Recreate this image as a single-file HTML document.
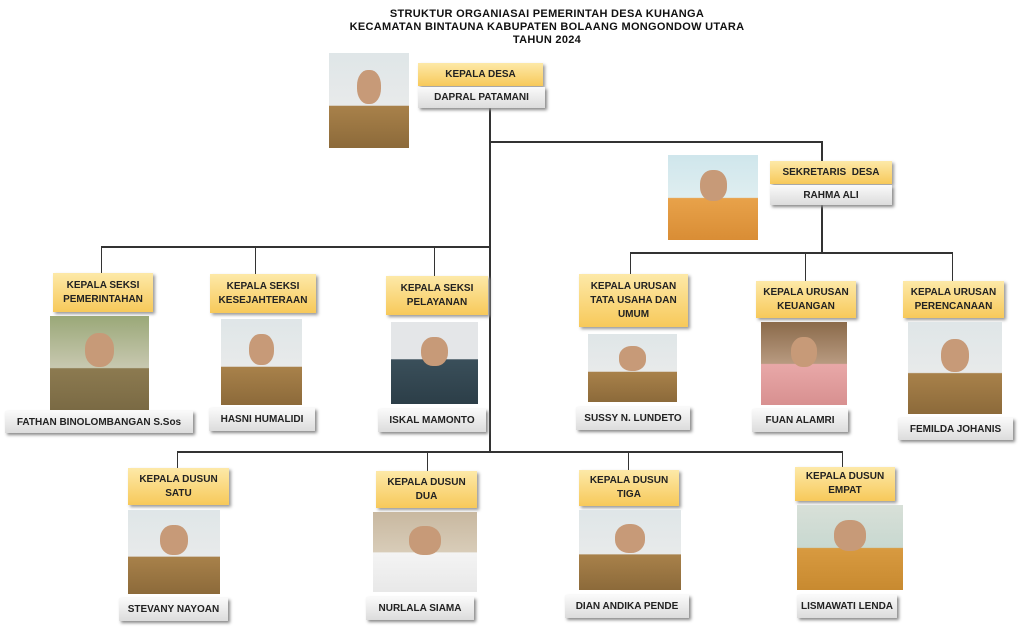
<!DOCTYPE html>
<html><head><meta charset="utf-8"><style>
body{margin:0;width:1024px;height:628px;background:#fff;position:relative;overflow:hidden;font-family:"Liberation Sans",sans-serif}
.t{position:absolute;left:0;width:1094px;text-align:center;font-weight:bold;font-size:11px;color:#111;letter-spacing:.3px}
.l{position:absolute;background:#333}
.y{position:absolute;background:linear-gradient(#fde9a8,#f7c95a);box-shadow:2px 2px 3px #999;display:flex;align-items:center;justify-content:center;text-align:center;font-size:10px;font-weight:bold;color:#222;line-height:14px}
.n{position:absolute;background:linear-gradient(#fafafa,#dcdcdc);box-shadow:2px 2px 3px #888;display:flex;align-items:center;justify-content:center;font-size:10px;font-weight:bold;color:#222}
.p{position:absolute;overflow:hidden;background:linear-gradient(#dfe6e8 0%,#e8eaea 55%,#a8814a 56%,#8c6a3a 100%)}
.p::before{content:"";position:absolute;left:35%;width:30%;top:18%;height:36%;border-radius:45%;background:#c79a78}
</style></head><body>
<div class="t" style="top:8px;left:0">STRUKTUR ORGANIASAI PEMERINTAH DESA KUHANGA</div>
<div class="t" style="top:21px">KECAMATAN BINTAUNA KABUPATEN BOLAANG MONGONDOW UTARA</div>
<div class="t" style="top:34px">TAHUN 2024</div>

<div class="l" style="left:489px;top:108px;width:2px;height:345px"></div>
<div class="l" style="left:490px;top:141px;width:333px;height:2px"></div>
<div class="l" style="left:821px;top:141px;width:2px;height:20px"></div>
<div class="l" style="left:821px;top:205px;width:2px;height:48px"></div>
<div class="l" style="left:630px;top:252px;width:323px;height:2px"></div>
<div class="l" style="left:630px;top:252px;width:1px;height:22px"></div>
<div class="l" style="left:805px;top:252px;width:1px;height:29px"></div>
<div class="l" style="left:952px;top:252px;width:1px;height:29px"></div>
<div class="l" style="left:101px;top:246px;width:389px;height:2px"></div>
<div class="l" style="left:101px;top:246px;width:1px;height:27px"></div>
<div class="l" style="left:255px;top:246px;width:1px;height:28px"></div>
<div class="l" style="left:434px;top:246px;width:1px;height:30px"></div>
<div class="l" style="left:177px;top:451px;width:666px;height:2px"></div>
<div class="l" style="left:177px;top:451px;width:1px;height:17px"></div>
<div class="l" style="left:427px;top:451px;width:1px;height:20px"></div>
<div class="l" style="left:628px;top:451px;width:1px;height:19px"></div>
<div class="l" style="left:842px;top:451px;width:1px;height:16px"></div>

<div class="p" style="left:329px;top:53px;width:80px;height:95px"></div>
<div class="y" style="left:418px;top:63px;width:125px;height:23px">KEPALA DESA</div>
<div class="n" style="left:418px;top:87px;width:127px;height:21px">DAPRAL PATAMANI</div>

<div class="p" style="left:668px;top:155px;width:90px;height:85px;background:linear-gradient(#cfe6ec,#dfeef0 50%,#e8a24a 51%,#d98d35)"></div>
<div class="y" style="left:770px;top:161px;width:122px;height:23px">SEKRETARIS &nbsp;DESA</div>
<div class="n" style="left:770px;top:185px;width:122px;height:20px">RAHMA ALI</div>

<div class="y" style="left:53px;top:273px;width:100px;height:39px">KEPALA SEKSI<br>PEMERINTAHAN</div>
<div class="p" style="left:50px;top:316px;width:99px;height:94px;background:linear-gradient(#9aa878,#c8c8b0 55%,#8c7a50 56%,#7a6a44)"></div>
<div class="n" style="left:5px;top:411px;width:188px;height:22px">FATHAN BINOLOMBANGAN S.Sos</div>

<div class="y" style="left:210px;top:274px;width:106px;height:39px">KEPALA SEKSI<br>KESEJAHTERAAN</div>
<div class="p" style="left:221px;top:319px;width:81px;height:86px"></div>
<div class="n" style="left:209px;top:408px;width:106px;height:23px">HASNI HUMALIDI</div>

<div class="y" style="left:386px;top:276px;width:102px;height:39px">KEPALA SEKSI<br>PELAYANAN</div>
<div class="p" style="left:391px;top:322px;width:87px;height:82px;background:linear-gradient(#e4e6e8 0%,#e4e6e8 45%,#3a4f5a 46%,#2c3e48)"></div>
<div class="n" style="left:378px;top:409px;width:108px;height:23px">ISKAL MAMONTO</div>

<div class="y" style="left:579px;top:274px;width:109px;height:53px">KEPALA URUSAN<br>TATA USAHA DAN<br>UMUM</div>
<div class="p" style="left:588px;top:334px;width:89px;height:68px"></div>
<div class="n" style="left:576px;top:407px;width:114px;height:23px">SUSSY N. LUNDETO</div>

<div class="y" style="left:756px;top:281px;width:100px;height:37px">KEPALA URUSAN<br>KEUANGAN</div>
<div class="p" style="left:761px;top:322px;width:86px;height:83px;background:linear-gradient(#8a6a4a,#b89a80 50%,#e8a8a8 51%,#d89090)"></div>
<div class="n" style="left:752px;top:409px;width:96px;height:23px">FUAN ALAMRI</div>

<div class="y" style="left:903px;top:281px;width:101px;height:37px">KEPALA URUSAN<br>PERENCANAAN</div>
<div class="p" style="left:908px;top:322px;width:94px;height:92px"></div>
<div class="n" style="left:898px;top:418px;width:115px;height:22px">FEMILDA JOHANIS</div>

<div class="y" style="left:128px;top:468px;width:101px;height:37px">KEPALA DUSUN<br>SATU</div>
<div class="p" style="left:128px;top:510px;width:92px;height:84px"></div>
<div class="n" style="left:119px;top:598px;width:109px;height:23px">STEVANY NAYOAN</div>

<div class="y" style="left:376px;top:471px;width:101px;height:37px">KEPALA DUSUN<br>DUA</div>
<div class="p" style="left:373px;top:512px;width:104px;height:80px;background:linear-gradient(#c8b8a0,#d8ccb8 50%,#f4f4f4 51%,#e8e8e8)"></div>
<div class="n" style="left:366px;top:597px;width:108px;height:23px">NURLALA SIAMA</div>

<div class="y" style="left:579px;top:470px;width:100px;height:36px">KEPALA DUSUN<br>TIGA</div>
<div class="p" style="left:579px;top:510px;width:102px;height:80px"></div>
<div class="n" style="left:565px;top:595px;width:124px;height:23px">DIAN ANDIKA PENDE</div>

<div class="y" style="left:795px;top:467px;width:100px;height:34px">KEPALA DUSUN<br>EMPAT</div>
<div class="p" style="left:797px;top:505px;width:106px;height:85px;background:linear-gradient(#d8e0d8,#c8d8d0 50%,#d89a40 51%,#c88a30)"></div>
<div class="n" style="left:797px;top:595px;width:100px;height:23px">LISMAWATI LENDA</div>
</body></html>
